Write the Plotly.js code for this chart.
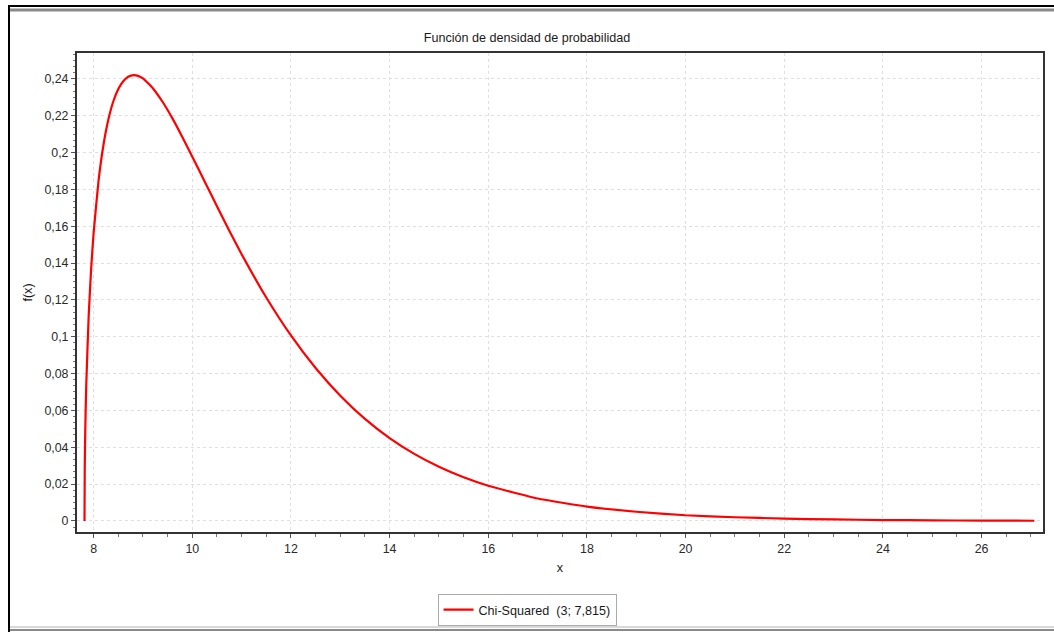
<!DOCTYPE html>
<html>
<head>
<meta charset="utf-8">
<script src="https://cdn.plot.ly/plotly-3.0.1.min.js"></script>
<style>
  html, body { margin: 0; padding: 0; background: #ffffff; }
  #chart { width: 1054px; height: 632px; }
</style>
</head>
<body>
<div id="chart"></div>
<script>
// Values
var xValues = [7.815, 7.82, 7.83, 7.85, 7.9, 7.95, 8.0, 8.1, 8.2, 8.3, 8.4, 8.5, 8.6, 8.7, 8.815,
  8.9, 9.0, 9.2, 9.4, 9.6, 9.8, 10.0, 10.25, 10.5, 10.75, 11.0, 11.5, 12.0, 12.5, 13.0,
  13.5, 14.0, 14.5, 15.0, 15.5, 16.0, 17.0, 18.0, 19.0, 20.0, 21.0, 22.0, 23.0, 24.0,
  25.0, 26.0, 27.07];
var densityValues = [0.0, 0.028, 0.0485, 0.0733, 0.1115, 0.137, 0.1564, 0.1847, 0.2042, 0.218, 0.2278, 0.2344, 0.2387, 0.2411, 0.242,
  0.2416, 0.2402, 0.2349, 0.2274, 0.2184, 0.2083, 0.1977, 0.1843, 0.1708, 0.1575, 0.1448, 0.1213, 0.1007, 0.083, 0.068,
  0.0554, 0.045, 0.0364, 0.0294, 0.0237, 0.0191, 0.0122, 0.0078, 0.005, 0.0031, 0.002, 0.0013, 0.0008, 0.0005,
  0.0003, 0.0002, 0.0001];
var seriesName = 'Chi-Squared  (3; 7,815)';
var chartTitle = 'Función de densidad de probabilidad';
var xTitle = 'x';
var yTitle = 'f(x)';

var W = 1054, H = 632;
var mL = 77, mR = 11, mT = 53, mB = 100;
var pw = W - mL - mR, ph = H - mT - mB;
function px(x) { return (x - mL) / pw; }
function py(y) { return (H - mB - y) / ph; }

var font = 'Liberation Sans, Arial, sans-serif';

var trace = {
  x: xValues,
  y: densityValues,
  type: 'scatter',
  mode: 'lines',
  name: seriesName,
  line: { color: '#ff0000', width: 2.2, shape: 'spline', smoothing: 0.4 },
  showlegend: true
};

var layout = {
  width: W, height: H,
  margin: { l: mL, r: mR, t: mT, b: mB, pad: 0 },
  paper_bgcolor: '#ffffff',
  plot_bgcolor: '#ffffff',
  separators: ',.',
  font: { family: font, size: 12, color: '#333333' },
  title: {
    text: chartTitle,
    font: { family: font, size: 12.6, color: '#1a1a1a' },
    x: 0.5, xref: 'container', xanchor: 'center',
    y: 1 - 38 / H, yref: 'container', yanchor: 'middle'
  },
  xaxis: {
    range: [7.663, 27.245],
    dtick: 2, tick0: 0,
    showgrid: true, gridcolor: '#e0e0e0', griddash: '3px,3px', gridwidth: 1,
    zeroline: false,
    showline: true, linecolor: '#333333', linewidth: 2, mirror: true,
    ticks: 'outside', ticklen: 4, tickcolor: '#555555', tickwidth: 1,
    minor: { dtick: 0.5, ticks: 'outside', ticklen: 3, tickcolor: '#777777', showgrid: false },
    tickfont: { family: font, size: 12.4, color: '#2a2a2a' },
    title: { text: xTitle, font: { family: font, size: 12.6, color: '#1a1a1a' }, standoff: 8 }
  },
  yaxis: {
    range: [-0.006, 0.254],
    dtick: 0.02, tick0: 0,
    showgrid: true, gridcolor: '#e0e0e0', griddash: '3px,3px', gridwidth: 1,
    zeroline: false,
    showline: true, linecolor: '#333333', linewidth: 2, mirror: true,
    ticks: 'outside', ticklen: 4, tickcolor: '#555555', tickwidth: 1,
    minor: { dtick: 0.02 / 6, ticks: 'outside', ticklen: 2, tickcolor: '#777777', showgrid: false },
    tickfont: { family: font, size: 12.4, color: '#2a2a2a' },
    title: { text: yTitle, font: { family: font, size: 12.6, color: '#1a1a1a' }, standoff: 9 }
  },
  legend: {
    orientation: 'h',
    xref: 'container', yref: 'container',
    x: 0.5, xanchor: 'center',
    y: 1 - 594 / H, yanchor: 'top',
    bgcolor: '#ffffff', bordercolor: '#aaaaaa', borderwidth: 1,
    font: { family: font, size: 12.6, color: '#1a1a1a' },
    itemwidth: 30
  },
  shapes: [
    // outer frame: top black + grey bevel, left black, bottom grey
    { type: 'line', xref: 'paper', yref: 'paper', x0: px(8), x1: px(1054), y0: py(6), y1: py(6), line: { color: '#000000', width: 2 } },
    { type: 'line', xref: 'paper', yref: 'paper', x0: px(10), x1: px(1054), y0: py(10), y1: py(10), line: { color: '#8a8a8a', width: 3 } },
    { type: 'line', xref: 'paper', yref: 'paper', x0: px(9), x1: px(9), y0: py(5), y1: py(632), line: { color: '#000000', width: 2 } },
    { type: 'line', xref: 'paper', yref: 'paper', x0: px(10), x1: px(1054), y0: py(627), y1: py(627), line: { color: '#d8d8d8', width: 2 } },
    { type: 'line', xref: 'paper', yref: 'paper', x0: px(10), x1: px(1054), y0: py(630), y1: py(630), line: { color: '#8a8a8a', width: 2 } }
  ]
};

Plotly.newPlot('chart', [trace], layout, { displayModeBar: false, staticPlot: true });
</script>
</body>
</html>
